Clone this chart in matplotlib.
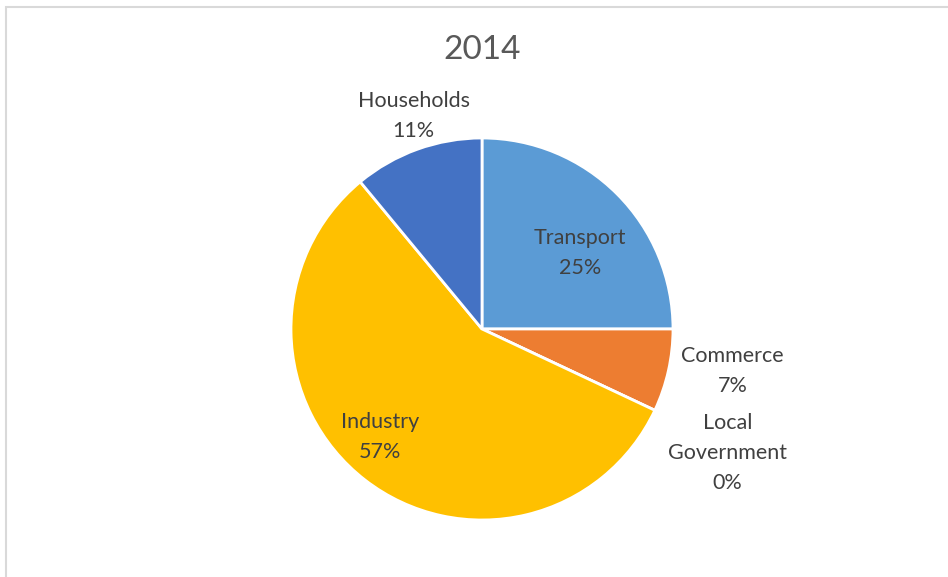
import numpy as np
import matplotlib.pyplot as plt
from matplotlib.patches import Rectangle

# share of emissions by sector, 2014
sectors = ["Transport", "Commerce", "Local\nGovernment", "Industry", "Households"]
shares = [25, 7, 0, 57, 11]
colors = ["#5B9BD5", "#ED7D31", "#A5A5A5", "#FFC000", "#4472C4"]

# label placement: radius (in pie radii) and angle nudge (degrees)
label_r = [0.65, 1.33, 1.44, 0.78, 1.17]
label_da = [-7, 3, -1.5, -5.6, -2]

plt.rcParams['font.family'] = ['Lato', 'DejaVu Sans']

fig = plt.figure(figsize=(9.48, 5.77), dpi=100)
W, H = 948, 577
cx, cy, R = 482, 329, 191
ax = fig.add_axes([(cx - R) / W, (H - cy - R) / H, 2 * R / W, 2 * R / H])

wedges, _ = ax.pie(shares, colors=colors, startangle=90, counterclock=False,
                   radius=1.0, wedgeprops=dict(edgecolor="white", linewidth=2.0))
ax.set_xlim(-1, 1)
ax.set_ylim(-1, 1)
ax.set_aspect("equal")
ax.axis("off")

total = sum(shares)
for w, name, val, r, da in zip(wedges, sectors, shares, label_r, label_da):
    mid = np.deg2rad((w.theta1 + w.theta2) / 2 + da)
    ax.text(r * np.cos(mid), r * np.sin(mid), f"{name}\n{val / total:.0%}",
            ha="center", va="center", fontsize=15.5, color="#404040",
            linespacing=1.62, clip_on=False)

fig.text(cx / W, 1 - 50 / H, "2014", ha="center", va="center",
         fontsize=24, color="#595959")

# chart area frame
fig.patches.append(Rectangle((5.5 / W, -0.1), 1.1, 1.1 - 7.5 / H,
                             transform=fig.transFigure, fill=False,
                             edgecolor="#D9D9D9", linewidth=1.5))

fig.savefig("out.png", dpi=100)
